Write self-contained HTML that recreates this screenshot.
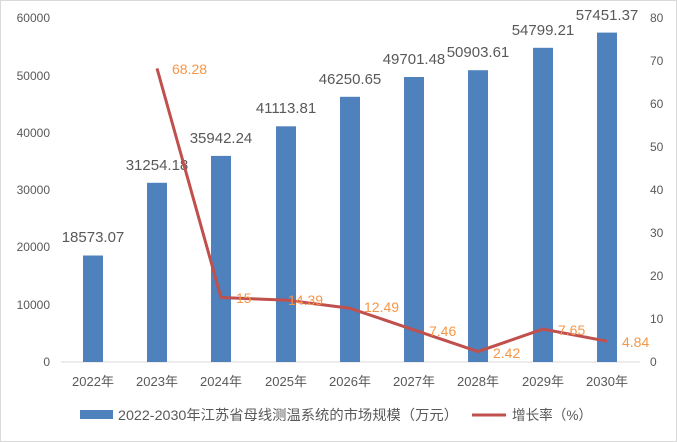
<!DOCTYPE html>
<html><head><meta charset="utf-8"><style>body{margin:0;background:#fff}svg{display:block}</style></head><body>
<svg width="677" height="442" xmlns="http://www.w3.org/2000/svg" font-family="Liberation Sans, Noto Sans CJK SC, sans-serif">
<rect x="0.5" y="0.5" width="676" height="441" fill="#fff" stroke="#d9d9d9"/>
<line x1="61" y1="362" x2="640" y2="362" stroke="#d9d9d9"/>
<g font-size="12" fill="#595959" text-anchor="end">
<text x="50" y="366">0</text><text x="50" y="309">10000</text><text x="50" y="251">20000</text><text x="50" y="194">30000</text><text x="50" y="137">40000</text><text x="50" y="80">50000</text><text x="50" y="22">60000</text>
</g>
<g font-size="12" fill="#595959" text-anchor="start">
<text x="650" y="366">0</text><text x="650" y="323">10</text><text x="650" y="280">20</text><text x="650" y="237">30</text><text x="650" y="194">40</text><text x="650" y="151">50</text><text x="650" y="108">60</text><text x="650" y="65">70</text><text x="650" y="22">80</text>
</g>
<g fill="#4f81bd">
<rect x="83" y="255.5" width="20" height="106.5"/>
<rect x="147" y="182.8" width="20" height="179.2"/>
<rect x="211" y="155.9" width="20" height="206.1"/>
<rect x="276" y="126.3" width="20" height="235.7"/>
<rect x="340" y="96.8" width="20" height="265.2"/>
<rect x="404" y="77" width="20" height="285"/>
<rect x="468" y="70.2" width="20" height="291.8"/>
<rect x="533" y="47.8" width="20" height="314.2"/>
<rect x="597" y="32.6" width="20" height="329.4"/>
</g>
<g font-size="15" fill="#595959" text-anchor="middle">
<text x="93" y="242">18573.07</text><text x="157" y="170">31254.18</text><text x="221" y="143">35942.24</text><text x="286" y="113">41113.81</text><text x="350" y="84">46250.65</text><text x="414" y="64">49701.48</text><text x="478" y="57">50903.61</text><text x="543" y="35">54799.21</text><text x="607" y="20">57451.37</text>
</g>
<polyline fill="none" stroke="#c0504d" stroke-width="3" stroke-linejoin="round" points="157,68.4 221,297.5 286,300.1 350,308.3 414,329.9 478,351.6 543,329.1 607,341.2"/>
<g font-size="14" fill="#f79646" text-anchor="start">
<text x="172" y="74">68.28</text><text x="236" y="303">15</text><text x="288" y="305">14.39</text><text x="364" y="312">12.49</text><text x="429" y="336">7.46</text><text x="493" y="358">2.42</text><text x="558" y="335">7.65</text><text x="622" y="347">4.84</text>
</g>
<g font-size="13" fill="#595959" text-anchor="middle">
<text x="93" y="386">2022年</text><text x="157" y="386">2023年</text><text x="221" y="386">2024年</text><text x="286" y="386">2025年</text><text x="350" y="386">2026年</text><text x="414" y="386">2027年</text><text x="478" y="386">2028年</text><text x="543" y="386">2029年</text><text x="607" y="386">2030年</text>
</g>
<rect x="80" y="410" width="33" height="9" fill="#4f81bd"/>
<text x="118" y="420" font-size="14" fill="#595959" textLength="340" lengthAdjust="spacingAndGlyphs">2022-2030年江苏省母线测温系统的市场规模（万元）</text>
<line x1="472" y1="415" x2="506" y2="415" stroke="#c0504d" stroke-width="3"/>
<text x="512" y="420" font-size="14" fill="#595959" textLength="80" lengthAdjust="spacingAndGlyphs">增长率（%）</text>
</svg>
</body></html>
